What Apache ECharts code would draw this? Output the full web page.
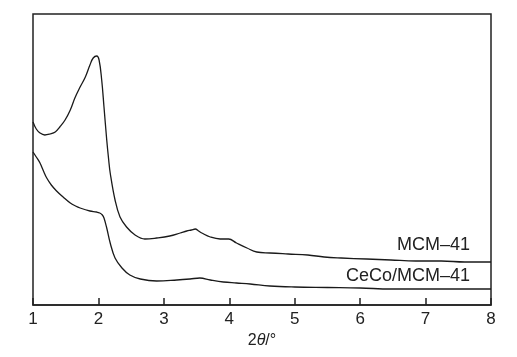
<!DOCTYPE html>
<html>
<head>
<meta charset="utf-8">
<script src="https://cdn.jsdelivr.net/npm/echarts@6/dist/echarts.min.js"></script>
<style>html,body{margin:0;padding:0;background:#fff}#c{width:517px;height:357px}</style>
</head>
<body>
<div id="c"></div>
<script>
var xTicks = [1, 2, 3, 4, 5, 6, 7, 8];
var mcmX = [1.0, 1.05, 1.107, 1.18, 1.26, 1.34, 1.41, 1.49, 1.57, 1.64, 1.72, 1.8, 1.87, 1.92, 1.974, 2.01, 2.05, 2.085, 2.127, 2.157, 2.18, 2.254, 2.33, 2.43, 2.56, 2.71, 2.89, 3.09, 3.25, 3.35, 3.42, 3.48, 3.53, 3.58, 3.71, 3.86, 3.99, 4.11, 4.27, 4.42, 4.62, 4.9, 5.2, 5.45, 5.71, 6.1, 6.47, 6.85, 7.24, 7.6, 8.0];
var mcmY = [183, 176, 172, 170, 171, 173, 178, 185, 195, 207, 218, 228, 240, 247, 249, 245, 225, 198, 165, 145, 132, 105, 88, 78, 70, 66, 67, 69, 72, 74, 75, 76, 74, 72, 68, 66, 66, 62, 57, 53, 52, 51, 50, 48, 47, 46, 45, 44, 44, 43, 43];
var cecoX = [1.0, 1.05, 1.107, 1.16, 1.21, 1.28, 1.36, 1.46, 1.57, 1.65, 1.72, 1.87, 1.97, 2.02, 2.06, 2.085, 2.127, 2.18, 2.254, 2.36, 2.48, 2.64, 2.89, 3.2, 3.4, 3.55, 3.71, 3.91, 4.11, 4.32, 4.62, 5.0, 5.5, 6.0, 6.47, 7.2, 8.0];
var cecoY = [153, 148, 142, 134, 127, 120, 114, 108, 102, 99, 97, 94, 93, 92, 90, 87, 77, 62, 47, 37, 30, 26, 24, 25, 26, 27, 25, 23, 22, 21, 19, 18, 17.5, 17, 16, 16, 16];
var seriesNames = ['MCM\u201341', 'CeCo/MCM\u201341'];

function pairs(xs, ys) { return xs.map(function (x, i) { return [x, ys[i]]; }); }

var chart = echarts.init(document.getElementById('c'));
var font = 'Liberation Sans, Arial, sans-serif';
chart.setOption({
  animation: false,
  grid: { left: 33, right: 26, top: 14, bottom: 52, show: true, borderColor: '#222', borderWidth: 1.5, backgroundColor: 'transparent' },
  xAxis: {
    type: 'value', min: 1, max: 8, interval: 1,
    axisLine: { show: true, lineStyle: { color: '#222', width: 1.5 } },
    axisTick: { show: true, inside: true, length: 7, lineStyle: { color: '#222', width: 1.5 } },
    axisLabel: { color: '#222', fontSize: 17, fontFamily: font, margin: 6, formatter: function (v) { return xTicks.indexOf(v) >= 0 ? String(v) : ''; } },
    splitLine: { show: false },
    name: '{a|2}{b|\u03B8}{a|/\u00B0}',
    nameLocation: 'middle', nameGap: 22,
    nameTextStyle: { rich: { a: { fontSize: 16, fontFamily: font, color: '#222' }, b: { fontSize: 16, fontFamily: font, fontStyle: 'italic', color: '#222' } } }
  },
  yAxis: {
    type: 'value', min: 0, max: 291,
    axisLine: { show: false }, axisTick: { show: false }, axisLabel: { show: false }, splitLine: { show: false }
  },
  series: [
    { name: seriesNames[0], type: 'line', data: pairs(mcmX, mcmY), smooth: 0.4, showSymbol: false, lineStyle: { color: '#1a1a1a', width: 1.3 } },
    { name: seriesNames[1], type: 'line', data: pairs(cecoX, cecoY), smooth: 0.4, showSymbol: false, lineStyle: { color: '#1a1a1a', width: 1.3 } }
  ],
  graphic: [
    { type: 'text', right: 47, top: 236, style: { text: seriesNames[0], fontSize: 18, fontFamily: font, fill: '#222' } },
    { type: 'text', right: 47, top: 267, style: { text: seriesNames[1], fontSize: 18, fontFamily: font, fill: '#222' } }
  ]
});
</script>
</body>
</html>
